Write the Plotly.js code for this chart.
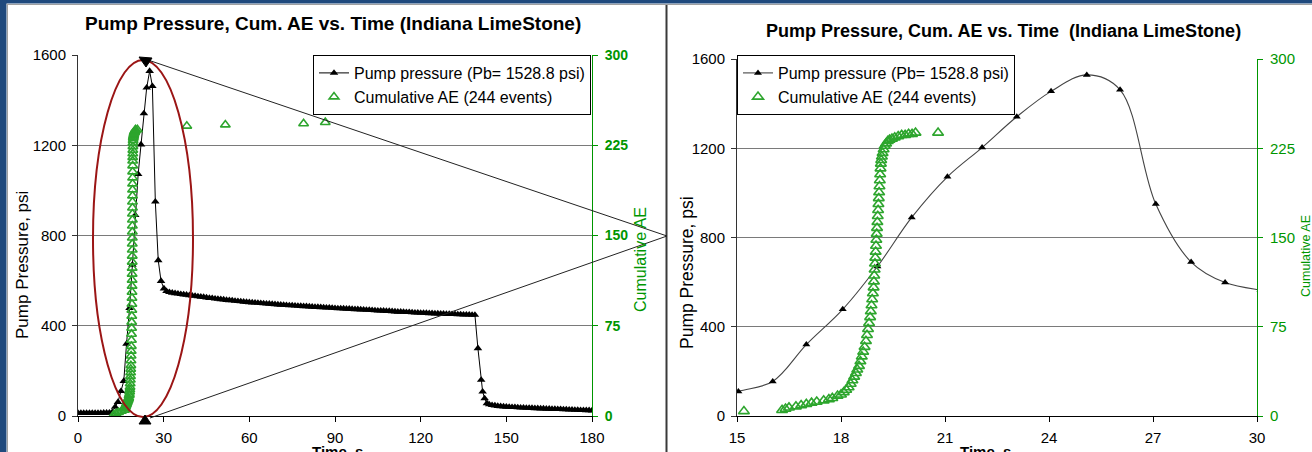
<!DOCTYPE html>
<html>
<head>
<meta charset="utf-8">
<script src="https://cdn.plot.ly/plotly-3.0.1.min.js"></script>
<style>
  html, body { margin: 0; padding: 0; background: #ffffff; }
  #chart { width: 1312px; height: 452px; }
</style>
</head>
<body>
<div id="chart"></div>
<script>
// ---------------- DATA ----------------
// Pump pressure (psi) vs time (s)
const pressureTime = [
  0,1,2,3,4,5,6,7,8,9,10,11,12,13,14,
  15.04,16.03,17.0,18.05,19.05,20.04,21.07,22.07,23.07,24.06,25.09,26.05,27.08,28.1,29.08,30.1,
  31,32,33,34,35,36,37,38,39,40,41,42,43,44,45,46,47,48,49,50,
  51,52,53,54,55,56,57,58,59,60,61,62,63,64,65,66,67,68,69,70,
  71,72,73,74,75,76,77,78,79,80,81,82,83,84,85,86,87,88,89,90,
  91,92,93,94,95,96,97,98,99,100,101,102,103,104,105,106,107,108,109,110,
  111,112,113,114,115,116,117,118,119,120,121,122,123,124,125,126,127,128,129,130,
  131,132,133,134,135,136,137,138,139,
  140.05,141.2,141.7,142.4,143.2,
  144,145,146,147,148,149,150,151,152,153,154,155,156,157,158,159,160,
  161,162,163,164,165,166,167,168,169,170,171,172,173,174,175,176,177,178,179,180
];
const pressureValue = [
  13,13,13,13,13,13,13,13,13,14,14,14,17,40,62,
  110,155,320,478,670,890,1072,1203,1341,1455,1528.8,1462,950,690,598,565,
  553,549,546,544,542,540,538,537,535,533,532,530,528,527,525,523,522,520,519,517,
  516,514,513,512,510,509,508,506,505,504,503,502,501,500,499,498,497,496,495,494,
  493,492,491,490,490,489,488,487,486,486,485,484,483,483,482,481,480,480,479,478,
  477,477,476,475,475,474,473,473,472,471,470,470,469,468,467,467,466,465,465,464,
  463,462,462,461,460,460,459,458,458,457,457,456,455,455,454,454,453,453,452,452,
  451,451,450,450,449,449,449,448,448,
  300,160,108,78,56,
  51,48,46,44,43,42,41,40,39,39,38,37,37,36,36,35,34,
  34,33,33,32,32,31,31,30,30,29,29,28,28,27,27,26,26,25,25,24
];
// Cumulative AE events vs time (s)
const aeTime = [
  12.5,13.3,14.2,15.2,16.3,16.4,16.5,16.7,16.85,17.0,17.15,17.3,17.5,17.65,17.75,17.9,18.0,18.08,
  18.15,18.22,18.28,18.33,18.38,18.43,18.47,18.52,18.56,18.6,18.64,18.68,18.72,18.75,18.78,18.81,
  18.84,18.86,18.88,18.9,18.92,18.94,18.95,18.96,18.97,18.98,18.99,19.0,19.01,19.02,19.03,19.04,
  19.05,19.06,19.07,19.08,19.09,19.1,19.11,19.12,19.13,19.14,19.15,19.16,19.18,19.2,19.23,19.26,
  19.3,19.35,19.4,19.47,19.55,19.65,19.75,19.85,19.95,20.05,20.15,20.8,
  38.1,51.6,79.0,86.6
];
const aeCount = [
  1,2,3,4,5,6,7,8,9,10,11,12,13,14,15,17,18,20,
  22,24,27,30,33,36,39,42,46,50,54,58,63,68,73,78,
  83,88,93,98,103,108,113,118,123,128,133,138,143,148,153,158,
  163,168,173,178,183,188,193,198,203,208,212,215,218,221,224,227,
  229,231,232,233,234,235,236,236,237,237,238,238,
  241,242,243,244
];
const pressureName = "Pump pressure (Pb= 1528.8 psi)";
const aeName = "Cumulative AE (244 events)";
const leftTitle = "Pump Pressure, Cum. AE vs. Time (Indiana LimeStone)";
const rightTitle = "Pump Pressure, Cum. AE vs. Time  (Indiana LimeStone)";
const yLeftTitle = "Pump Pressure, psi";
const yRightTitle = "Cumulative AE";
const xTitle = "Time, s";

// ---------------- LAYOUT HELPERS ----------------
const W = 1312, H = 452;
const PX = x => x / W;
const PY = y => 1 - y / H;
const FONT = "Liberation Sans, Arial, sans-serif";
const GREEN = "rgb(0,150,0)";
const MARK_GREEN = "rgb(45,165,45)";

const traces = [
  { x: pressureTime, y: pressureValue, xaxis: "x", yaxis: "y", name: pressureName,
    mode: "lines+markers", line: { color: "#000", width: 1 },
    marker: { symbol: "triangle-up", size: 7.5, color: "#000" }, legend: "legend" },
  { x: aeTime, y: aeCount, xaxis: "x", yaxis: "y2", name: aeName,
    mode: "markers",
    marker: { symbol: "triangle-up-open", size: 8.5, color: MARK_GREEN, line: { width: 1.6, color: MARK_GREEN } },
    legend: "legend" },
  { x: pressureTime, y: pressureValue, xaxis: "x2", yaxis: "y3", name: pressureName,
    mode: "lines+markers", line: { color: "#444", width: 1.1, shape: "spline", smoothing: 1 },
    marker: { symbol: "triangle-up", size: 7, color: "#000" }, legend: "legend2" },
  { x: aeTime, y: aeCount, xaxis: "x2", yaxis: "y4", name: aeName,
    mode: "markers",
    marker: { symbol: "triangle-up-open", size: 9.5, color: MARK_GREEN, line: { width: 1.6, color: MARK_GREEN } },
    legend: "legend2" }
];

const tickFont = { family: FONT, size: 15, color: "#000" };
const greenTick = { family: FONT, size: 14, color: GREEN, weight: "bold" };

const baseX = {
  showgrid: false, zeroline: false, showline: true, linecolor: "#000", linewidth: 1,
  ticks: "outside", ticklen: 5, tickcolor: "#000", tickfont: tickFont, ticklabelstandoff: 3
};
const baseY = {
  showgrid: true, gridcolor: "#7a7a7a", gridwidth: 1, zeroline: false, showline: true,
  linecolor: "#333", linewidth: 1, ticks: "outside", ticklen: 5, tickcolor: "#333",
  tickfont: tickFont, range: [0, 1600], dtick: 400, tick0: 0, ticklabelstandoff: 3
};
const baseY2 = {
  showgrid: false, zeroline: false, showline: true, linecolor: GREEN, linewidth: 1,
  ticks: "outside", ticklen: 5, tickcolor: GREEN, range: [0, 300], dtick: 75, tick0: 0,
  side: "right", ticklabelstandoff: 4
};

const layout = {
  width: W, height: H, autosize: false,
  margin: { l: 0, r: 0, t: 0, b: 0, pad: 0 },
  paper_bgcolor: "#fff", plot_bgcolor: "rgba(0,0,0,0)",
  font: { family: FONT, color: "#000" },
  xaxis: Object.assign({}, baseX, { domain: [PX(78), PX(592)], range: [0, 180], dtick: 30, tick0: 0, anchor: "y" }),
  yaxis: Object.assign({}, baseY, { domain: [PY(416), PY(55)], anchor: "x" }),
  yaxis2: Object.assign({}, baseY2, { overlaying: "y", anchor: "x", tickfont: greenTick }),
  xaxis2: Object.assign({}, baseX, { domain: [PX(737), PX(1257)], range: [15, 30], dtick: 3, tick0: 15, anchor: "y3" }),
  yaxis3: Object.assign({}, baseY, { domain: [PY(416), PY(59)], anchor: "x2" }),
  yaxis4: Object.assign({}, baseY2, { overlaying: "y3", anchor: "x2", tickfont: { family: FONT, size: 15, color: GREEN } }),
  legend: {
    x: PX(313), y: PY(55), xanchor: "left", yanchor: "top",
    bgcolor: "#fff", bordercolor: "#000", borderwidth: 1,
    font: { family: FONT, size: 16, color: "#000" }, tracegroupgap: 0
  },
  legend2: {
    x: PX(737), y: PY(55), xanchor: "left", yanchor: "top",
    bgcolor: "#fff", bordercolor: "#000", borderwidth: 1,
    font: { family: FONT, size: 16, color: "#000" }, tracegroupgap: 0
  },
  showlegend: true,
  annotations: [
    { text: "<b>" + leftTitle + "</b>", x: PX(333), y: PY(24), xref: "paper", yref: "paper",
      xanchor: "center", yanchor: "middle", showarrow: false, font: { family: FONT, size: 19, color: "#000" } },
    { text: "<b>" + rightTitle + "</b>", x: PX(1003), y: PY(31), xref: "paper", yref: "paper",
      xanchor: "center", yanchor: "middle", showarrow: false, font: { family: FONT, size: 18, color: "#000" } },
    { text: yLeftTitle, x: PX(22), y: PY(265), xref: "paper", yref: "paper", textangle: -90,
      xanchor: "center", yanchor: "middle", showarrow: false, font: { family: FONT, size: 17, color: "#000" } },
    { text: yRightTitle, x: PX(640), y: PY(260), xref: "paper", yref: "paper", textangle: -90,
      xanchor: "center", yanchor: "middle", showarrow: false, font: { family: FONT, size: 16, color: GREEN } },
    { text: yLeftTitle, x: PX(687), y: PY(273), xref: "paper", yref: "paper", textangle: -90,
      xanchor: "center", yanchor: "middle", showarrow: false, font: { family: FONT, size: 17.5, color: "#000" } },
    { text: yRightTitle, x: PX(1306), y: PY(256), xref: "paper", yref: "paper", textangle: -90,
      xanchor: "center", yanchor: "middle", showarrow: false, font: { family: FONT, size: 12.5, color: GREEN } },
    { text: "<b>" + xTitle + "</b>", x: PX(337), y: PY(441), xref: "paper", yref: "paper",
      xanchor: "center", yanchor: "top", showarrow: false, font: { family: FONT, size: 15, color: "#000" } },
    { text: "<b>" + xTitle + "</b>", x: PX(985), y: PY(441), xref: "paper", yref: "paper",
      xanchor: "center", yanchor: "top", showarrow: false, font: { family: FONT, size: 15, color: "#000" } }
  ],
  shapes: [
    // slide frame
    { type: "rect", xref: "paper", yref: "paper", x0: 0, x1: 1, y0: PY(3.5), y1: 1, fillcolor: "#1F497D", line: { width: 0 }, layer: "above" },
    { type: "rect", xref: "paper", yref: "paper", x0: 0, x1: PX(6.5), y0: 0, y1: 1, fillcolor: "#1F497D", line: { width: 0 }, layer: "above" },
    { type: "line", xref: "paper", yref: "paper", x0: PX(6.5), x1: 1, y0: PY(4.5), y1: PY(4.5), line: { color: "#a0a0a0", width: 1 }, layer: "above" },
    { type: "line", xref: "paper", yref: "paper", x0: PX(7.5), x1: PX(7.5), y0: 0, y1: PY(4.5), line: { color: "#a0a0a0", width: 1 }, layer: "above" },
    // divider between the two pictures
    { type: "line", xref: "paper", yref: "paper", x0: PX(666.5), x1: PX(666.5), y0: 0, y1: PY(5), line: { color: "#3a3a3a", width: 2 }, layer: "above" },
    // red ellipse
    { type: "circle", xref: "paper", yref: "paper", x0: PX(93), x1: PX(193), y0: PY(417), y1: PY(60), line: { color: "#9B1515", width: 2 }, layer: "above" },
    // zoom lines
    { type: "line", xref: "paper", yref: "paper", x0: PX(148), y0: PY(60), x1: PX(667), y1: PY(236), line: { color: "#222", width: 1 }, layer: "above" },
    { type: "line", xref: "paper", yref: "paper", x0: PX(150), y0: PY(418), x1: PX(667), y1: PY(236), line: { color: "#222", width: 1 }, layer: "above" },
    // zoom line end markers
    { type: "path", xref: "paper", yref: "paper",
      path: "M" + PX(139) + "," + PY(57) + " L" + PX(152) + "," + PY(58) + " L" + PX(146) + "," + PY(67) + " Z",
      fillcolor: "#000", line: { color: "#000", width: 1 }, layer: "above" },
    { type: "path", xref: "paper", yref: "paper",
      path: "M" + PX(145) + "," + PY(415) + " L" + PX(151) + "," + PY(424) + " L" + PX(139) + "," + PY(424) + " Z",
      fillcolor: "#000", line: { color: "#000", width: 1 }, layer: "above" }
  ]
};

Plotly.newPlot("chart", traces, layout, { staticPlot: true, displayModeBar: false });
</script>
</body>
</html>
